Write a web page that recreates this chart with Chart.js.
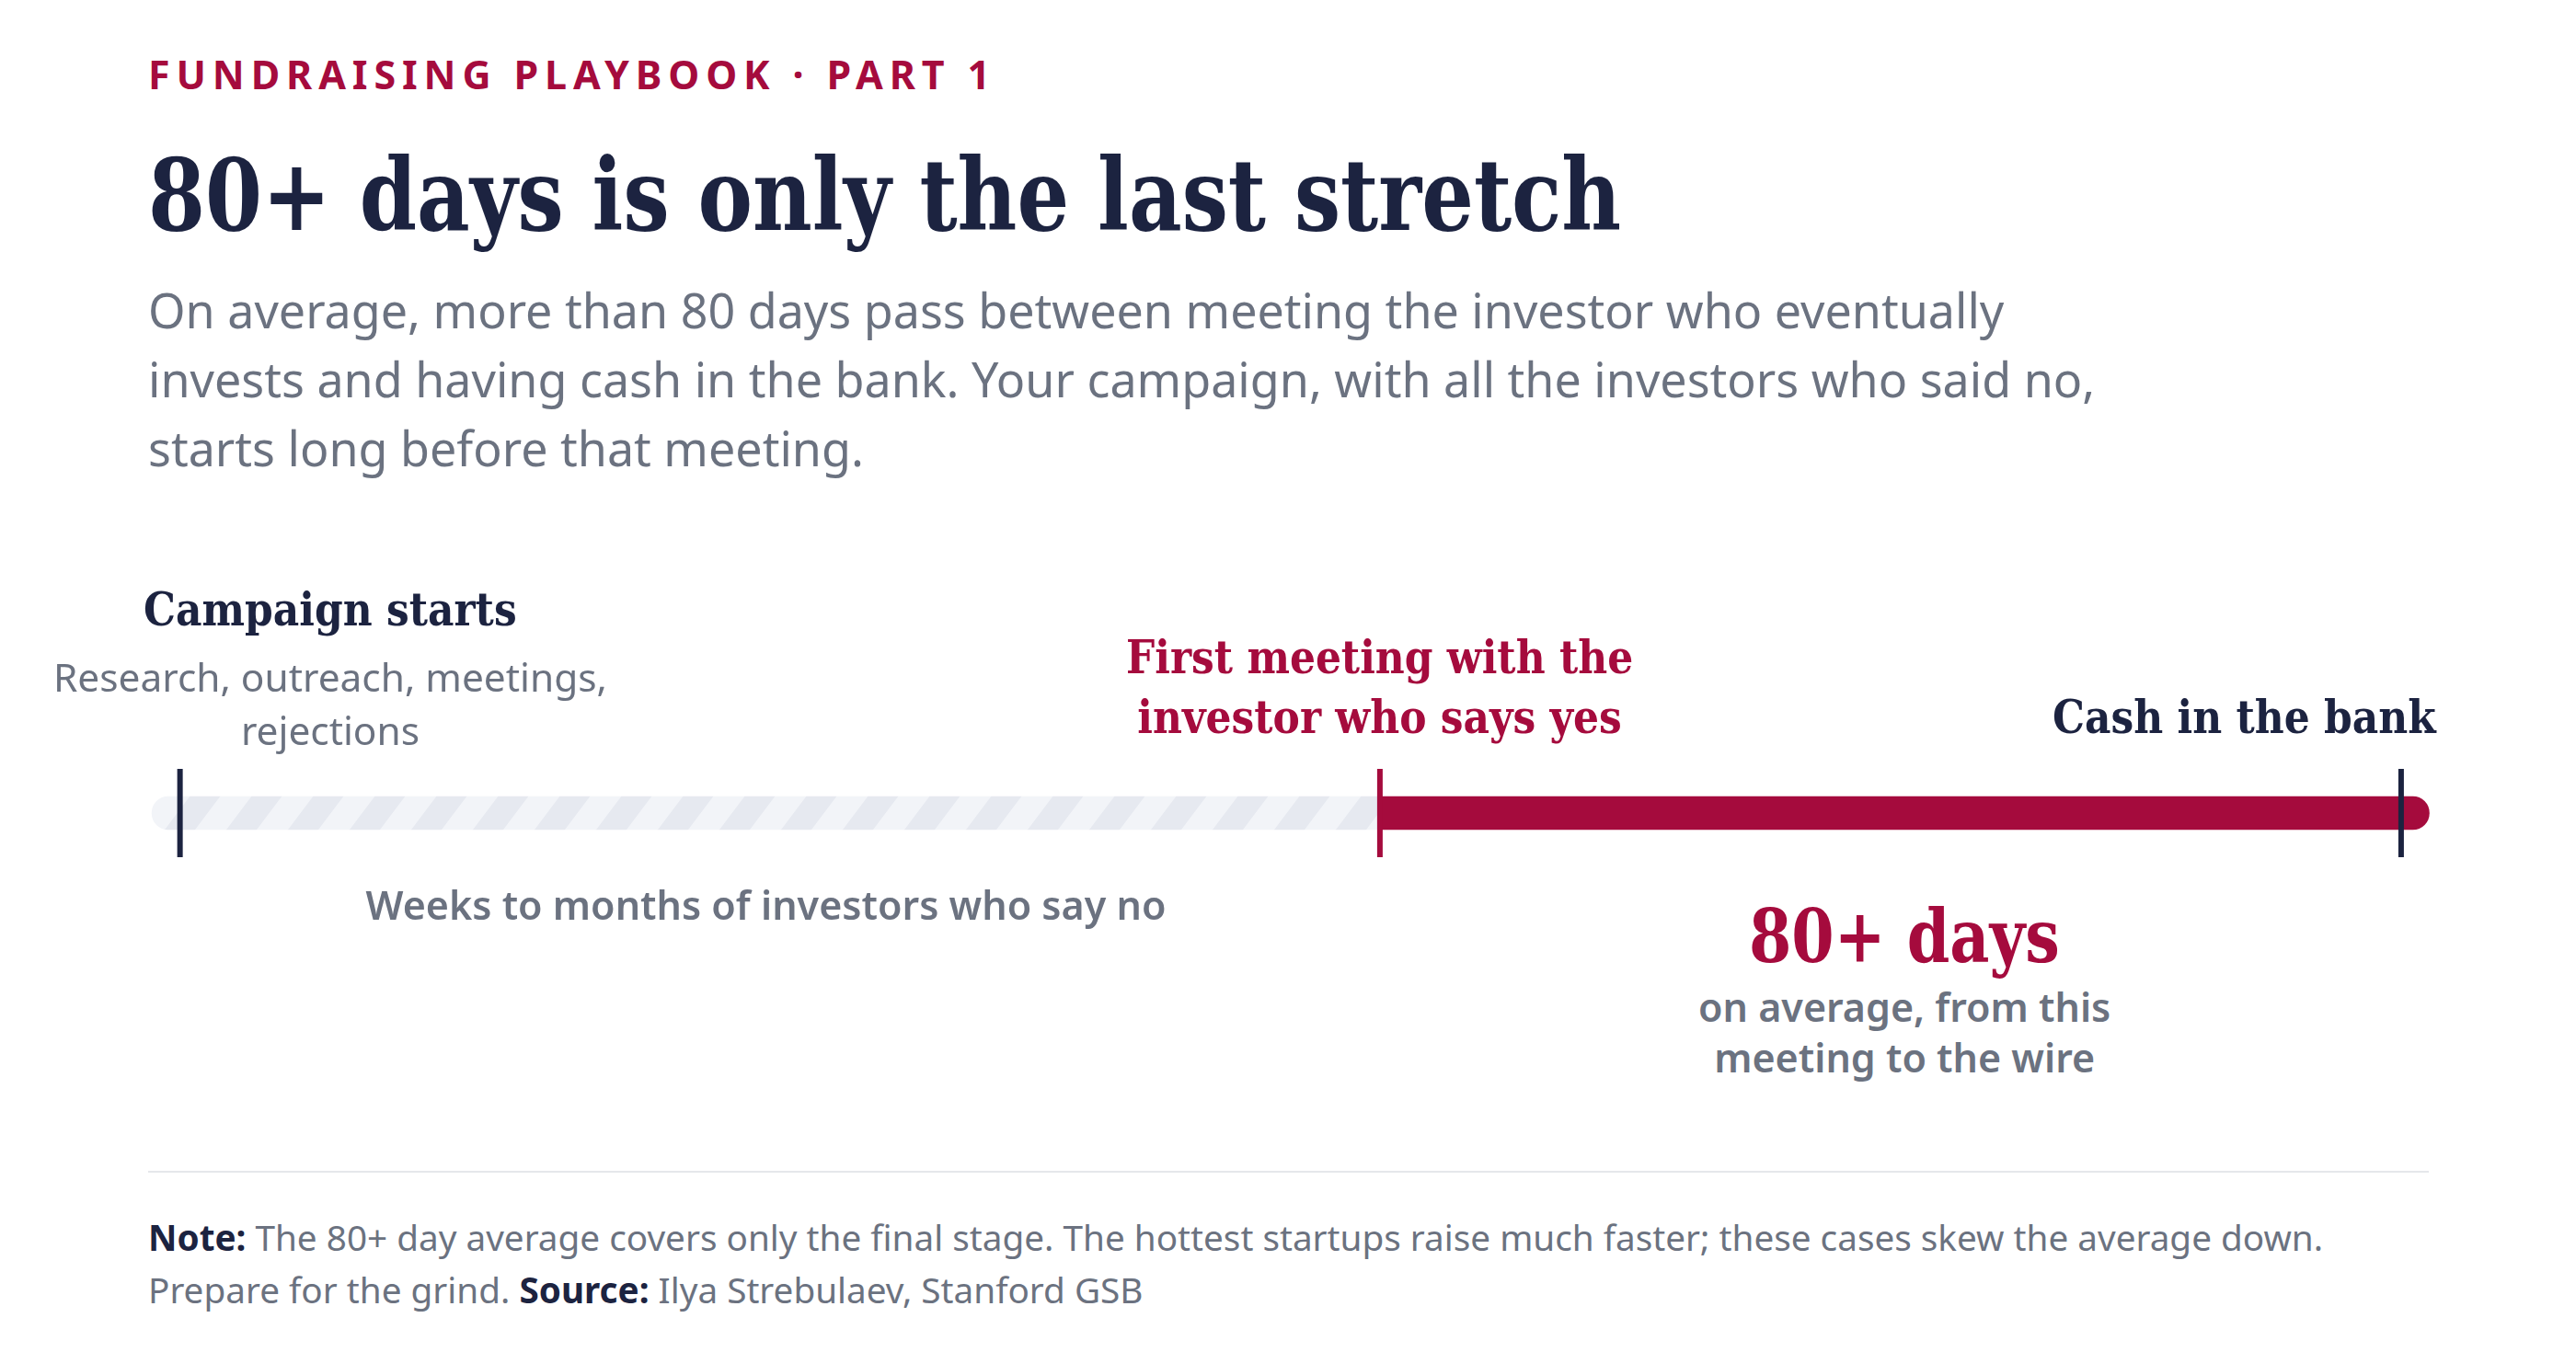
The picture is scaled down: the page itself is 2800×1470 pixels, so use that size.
<!DOCTYPE html>
<html>
<head>
<meta charset="utf-8">
<script src="https://cdn.jsdelivr.net/npm/chart.js@4.4.1/dist/chart.umd.min.js"></script>
<style>
  html, body { margin: 0; padding: 0; background: #fff; }
  body { width: 2800px; height: 1470px; position: relative; overflow: hidden;
         font-family: "Noto Sans", "Open Sans", sans-serif; }
  .t { position: absolute; margin: 0; white-space: pre-line; left: 0; top: 0; }
  .slab { font-family: "DejaVu Serif Condensed", "DejaVu Serif", serif; font-stretch: condensed; font-weight: 700;
          transform-origin: 0 0; transform: scaleX(0.958); }
  #eyebrow { color: #a50b3d; font-weight: 700; font-size: 43px; letter-spacing: 0.16em; line-height: 60px; }
  #title { color: #1c2340; font-size: 108px; line-height: 130px; transform: scaleX(0.917); }
  #subtitle { color: #6b7280; font-size: 52px; line-height: 75px; }
  .stage { font-size: 51px; line-height: 65px; text-align: center; }
  .stagenote { color: #6b7280; font-size: 42.4px; line-height: 58px; text-align: center; }
  .phase { color: #6b7280; font-size: 43px; font-weight: 600; line-height: 55px; text-align: center; }
  .big { color: #a50b3d; font-size: 80px; line-height: 90px; text-align: center; transform: scaleX(0.926); }
  #rule { position: absolute; left: 161px; top: 1273px; width: 2479px; height: 2px; background: #e5e7eb; }
  .note { color: #6b7280; font-size: 38.7px; line-height: 57px; white-space: nowrap; }
  .note b { color: #1c2340; font-weight: 700; }
  #wrap { position: absolute; left: 0; top: 784px; width: 2800px; height: 200px; }
</style>
</head>
<body>
<div class="t" id="eyebrow">FUNDRAISING PLAYBOOK · PART 1</div>
<div class="t slab" id="title">80+ days is only the last stretch</div>
<div class="t" id="subtitle">On average, more than 80 days pass between meeting the investor who eventually
invests and having cash in the bank. Your campaign, with all the investors who said no,
starts long before that meeting.</div>

<div id="wrap"><canvas id="c" width="2800" height="200"></canvas></div>

<div id="rule"></div>
<div class="t note" id="note1"><b>Note:</b> The 80+ day average covers only the final stage. The hottest startups raise much faster; these cases skew the average down.</div>
<div class="t note" id="note2">Prepare for the grind. <b>Source:</b> Ilya Strebulaev, Stanford GSB</div>

<script>
// milestones on the timeline, in days relative to the first meeting with the investor who says yes
const stages = ['Campaign starts', 'First meeting with the\ninvestor who says yes', 'Cash in the bank'];
const stageDays = [-94, 0, 80];
const stageNotes = ['Research, outreach, meetings,\nrejections', '', ''];

// phases between consecutive milestones
const phaseLabels = ['Weeks to months of investors who say no', '80+ days'];
const phaseNotes = ['', 'on average, from this\nmeeting to the wire'];

const NAVY = '#1c2340';
const CRIMSON = '#a50b3d';
const stageColors = [NAVY, CRIMSON, NAVY];
const CAP = 2.2;          // how far the track runs past the end ticks, in days
const TRACK = 'timeline';

function stripes() {
  const c = document.createElement('canvas');
  c.width = 67; c.height = 1;
  const g = c.getContext('2d');
  g.fillStyle = '#f2f4f8'; g.fillRect(0, 0, 67, 1);
  g.fillStyle = '#e6e9f0'; g.fillRect(0, 0, 33, 1);
  const p = g.createPattern(c, 'repeat');
  p.setTransform(new DOMMatrix().skewX(-37));
  return p;
}

// put an element so that its first baseline sits at y
function place(el, x, baseline, align) {
  const m = document.createElement('span');
  m.style.cssText = 'display:inline-block;width:0;height:0;vertical-align:baseline;';
  el.insertBefore(m, el.firstChild);
  const r = el.getBoundingClientRect();
  const off = m.getBoundingClientRect().top - r.top;
  m.remove();
  el.style.top = (baseline - off) + 'px';
  const w = r.width;
  el.style.left = (align === 'center' ? x - w / 2 : align === 'right' ? x - w : x) + 'px';
}

function label(cls, text, color) {
  const d = document.createElement('div');
  d.className = 't ' + cls;
  d.textContent = text;
  if (color) d.style.color = color;
  document.body.appendChild(d);
  return d;
}

function draw() {
  const phaseStart = phaseLabels.map((_, i) => stageDays[i] - (i === 0 ? CAP : 0));
  const phaseEnd = phaseLabels.map((_, i) => stageDays[i + 1] + (i === phaseLabels.length - 1 ? CAP : 0));

  const chart = new Chart(document.getElementById('c'), {
    type: 'bar',
    data: {
      labels: [TRACK],
      datasets: [
        {
          type: 'scatter',
          data: stageDays.map(d => ({ x: d, y: TRACK })),
          pointStyle: 'line',
          rotation: 90,
          radius: 48,
          borderWidth: 6,
          borderColor: stageColors,
          backgroundColor: stageColors,
          order: 0
        },
        {
          data: [[phaseStart[0], phaseEnd[0]]],
          backgroundColor: stripes(),
          borderSkipped: false,
          borderRadius: { topLeft: 18, bottomLeft: 18, topRight: 0, bottomRight: 0 },
          barThickness: 36,
          grouped: false,
          order: 1
        },
        {
          data: [[phaseStart[1], phaseEnd[1]]],
          backgroundColor: CRIMSON,
          borderSkipped: false,
          borderRadius: { topLeft: 0, bottomLeft: 0, topRight: 18, bottomRight: 18 },
          barThickness: 36,
          grouped: false,
          order: 1
        }
      ]
    },
    options: {
      indexAxis: 'y',
      responsive: false,
      animation: false,
      devicePixelRatio: 1,
      layout: { padding: 0, autoPadding: false },
      plugins: { legend: { display: false }, tooltip: { enabled: false } },
      events: [],
      scales: {
        x: { type: 'linear', min: -108.1, max: 93.7, display: false },
        y: { type: 'category', labels: [TRACK], display: false }
      }
    }
  });

  const xs = chart.scales.x;
  const px = v => xs.getPixelForValue(v);

  // header and footer
  place(document.getElementById('eyebrow'), 161, 97, 'left');
  place(document.getElementById('title'), 161, 250, 'left');
  place(document.getElementById('subtitle'), 161, 357, 'left');
  place(document.getElementById('note1'), 161, 1360, 'left');
  place(document.getElementById('note2'), 161, 1417, 'left');

  // milestone labels
  const s0 = label('stage slab', stages[0], NAVY);
  const n0 = label('stagenote', stageNotes[0]);
  const w0 = Math.max(s0.getBoundingClientRect().width, n0.getBoundingClientRect().width);
  const c0 = Math.max(px(stageDays[0]), w0 / 2 + 58);
  place(s0, c0, 680, 'center');
  place(n0, c0, 752, 'center');

  const s1 = label('stage slab', stages[1], CRIMSON);
  place(s1, px(stageDays[1]), 732, 'center');

  const s2 = label('stage slab', stages[2], NAVY);
  const w2 = s2.getBoundingClientRect().width;
  place(s2, Math.min(px(stageDays[2]) + w2 / 2, 2648), 797, 'right');

  // phase labels
  const m0 = (px(phaseStart[0]) + px(phaseEnd[0])) / 2;
  place(label('phase', phaseLabels[0]), m0, 1000, 'center');

  const m1 = (px(phaseStart[1]) + px(phaseEnd[1])) / 2;
  place(label('big slab', phaseLabels[1]), m1, 1046, 'center');
  place(label('phase', phaseNotes[1]), m1, 1111, 'center');
}

document.fonts.ready.then(draw);
</script>
</body>
</html>
